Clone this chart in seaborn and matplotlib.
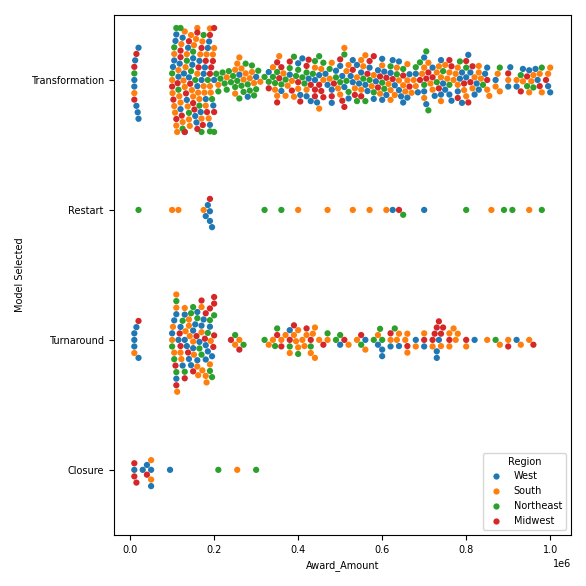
import warnings
import pandas as pd
import seaborn as sns
import matplotlib.pyplot as plt

warnings.filterwarnings("ignore")

models = ["Transformation", "Restart", "Turnaround", "Closure"]
regions = ["West", "South", "Northeast", "Midwest"]

# award amounts in thousands, per model / region
transformation_west = "10 10 15 20 20 105 110 115 120 125 130 135 140 150 155 160 165 170 175 180 185 190 200 260 280 300 330 360 380 400 410 420 430 440 450 470 480 490 500 510 520 530 540 550 560 570 580 590 600 610 620 630 640 650 660 680 700 720 740 750 760 780 790 800 810 820 830 850 870 900 920 950 970 1000 480 530 600 640 700 740 790 102 108 118 128 138 148 158 168 178 188 198 405 425 445 465 505 525 545 565 585 605 625 645 665 685 705 725 745 765 785 805 825 845 905 935 965 995 12 18"
transformation_south = "10 100 105 110 115 120 125 130 135 140 145 150 160 165 170 175 180 190 200 210 230 250 260 270 290 310 340 350 370 390 420 440 460 480 500 510 520 540 550 560 580 600 620 630 640 650 660 670 680 700 710 720 730 740 750 760 770 780 800 820 830 850 870 880 900 920 950 960 980 1000 105 130 160 190 250 400 450 550 620 660 700 740 780 830 101 107 112 117 122 127 132 137 142 147 152 157 162 167 172 177 182 187 192 197 255 265 275 285 295 345 355 365 375 385 455 475 495 515 535 555 575 595 615 635 655 675 695 715 735 755 775 795 815 835 855 875 935 955 975 995"
transformation_ne = "10 100 120 150 170 190 200 210 220 230 240 250 260 270 280 290 300 320 340 350 360 380 390 400 410 420 440 460 490 500 520 540 560 580 600 620 650 680 700 710 730 760 800 840 880 930 960 980 110 140 330 370 450 510 570 690 105 115 125 135 145 155 165 175 185 195 205 215 225 235 245 255 265 275 285 295 305 345 395 415 435 475 515 555 605 635 705 745 785 945"
transformation_mw = "10 10 15 100 110 120 130 140 150 160 170 180 190 200 200 330 350 360 380 400 420 430 440 450 460 480 500 510 530 550 570 590 610 650 690 720 760 780 800 810 850 900 930 990 120 160 190 350 440 580 710 103 113 123 133 143 153 163 173 183 193 197 355 385 405 425 455 485 505 535 565 595 625 665 705 735 765 795 805 815 945 975"

restart_west = "180 185 190 190 195 625 700"
restart_south = "100 115 175 400 470 530 570 610 860 950"
restart_ne = "20 320 360 650 800 890 910 980"
restart_mw = "190 640"

turnaround_west = "10 10 10 15 20 100 110 120 130 140 150 160 170 180 190 380 500 560 590 600 620 640 680 700 730 730 820 920 110 150 180 130 160 105 115 125 135 145 155 165 175 185 195 600 735"
turnaround_south = "10 100 105 110 120 130 140 150 160 170 180 190 250 260 330 340 360 370 380 390 400 410 420 430 440 450 470 520 540 560 590 620 640 660 680 700 720 740 760 770 780 800 850 880 900 930 950 110 140 170 400 440 660 760 102 112 122 132 142 152 162 172 182 192 395 415 435 635 655 775"
turnaround_ne = "100 110 130 150 170 190 200 250 270 320 350 380 400 430 470 490 500 550 580 600 630 870 110 160 190 105 125 145 165 185 195 345 595"
turnaround_mw = "20 110 130 150 170 190 200 200 200 240 260 350 360 380 390 420 430 460 510 550 620 660 700 720 730 740 760 800 900 960 120 180 108 118 138 158 178 198 725 735 745"

closure_west = "10 30 40 50 50 95"
closure_south = "50 50 255"
closure_ne = "210 300"
closure_mw = "10 10 15 40"

groups = {
    "Transformation": [transformation_west, transformation_south, transformation_ne, transformation_mw],
    "Restart": [restart_west, restart_south, restart_ne, restart_mw],
    "Turnaround": [turnaround_west, turnaround_south, turnaround_ne, turnaround_mw],
    "Closure": [closure_west, closure_south, closure_ne, closure_mw],
}

rows = []
for model, lists in groups.items():
    for region, vals in zip(regions, lists):
        for v in vals.split():
            rows.append({"Award_Amount": float(v) * 1000, "Model Selected": model, "Region": region})
df = pd.DataFrame(rows)

fig, ax = plt.subplots(figsize=(5.86, 5.86), dpi=100)
sns.swarmplot(data=df, x="Award_Amount", y="Model Selected", hue="Region",
              order=models, hue_order=regions, size=4.5, ax=ax)
ax.legend(title="Region", loc="lower right", fontsize=7, title_fontsize=7)
ax.tick_params(labelsize=7)
ax.xaxis.label.set_size(7)
ax.yaxis.label.set_size(7)
ax.xaxis.get_offset_text().set_fontsize(7)
plt.tight_layout()
plt.savefig("out.png")
